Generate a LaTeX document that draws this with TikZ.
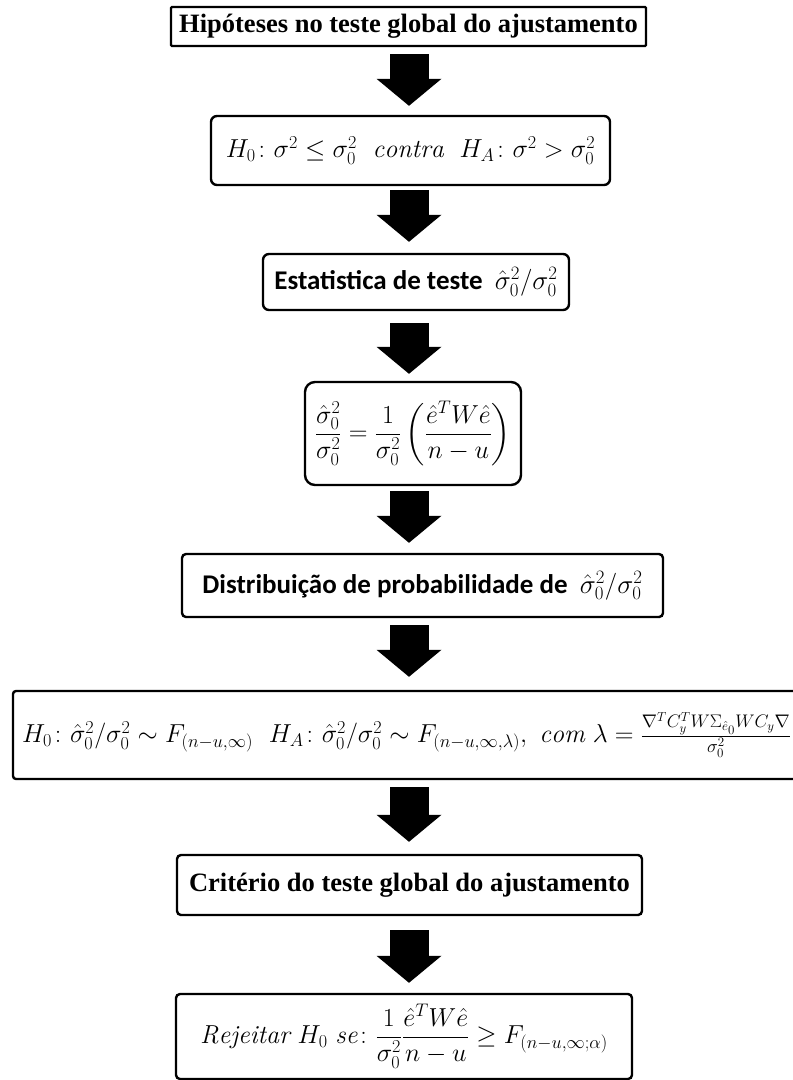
\RequirePackage{fix-cm}
\documentclass[tikz,border=0pt]{standalone}
\usepackage{amsmath}
\usepackage{amssymb}
\usepackage{fontspec}
\usepackage{tikz}
\usetikzlibrary{
  arrows.meta,
  positioning,
  calc
}
\newfontfamily\capfont{Liberation Serif}
\newfontfamily\calfont{Carlito}

\begin{document}
\begin{tikzpicture}[x=1pt, y=-1pt,
  box/.style={draw, line width=2.4pt, rounded corners=6pt, inner sep=0pt, align=center},
  ttl/.style={font=\capfont\bfseries\fontsize{26.5}{30}\selectfont},
  cal/.style={font=\calfont\bfseries\fontsize{27}{31}\selectfont},
  mth/.style={font=\fontsize{26}{30}\selectfont},
  bigarrow/.style={line width=39pt, -{Triangle[width=65pt 0, length=27pt 0, line width=0pt]}}]
  \useasboundingbox (0,0) rectangle (793,1080);
  \coordinate (ax) at (409,0);

  \node[box, ttl, rounded corners=1pt, minimum width=475pt, minimum height=39pt] (hip) at (408.5,26.5)
    {Hipóteses no teste global do ajustamento};
  \node[box, mth, minimum width=399pt, minimum height=69pt] (hyp) at (410.5,150.5)
    {$H_0\colon \sigma^2 \leq \sigma_0^2\ \ \mathit{contra}\ \ H_A\colon \sigma^2 > \sigma_0^2$};
  \node[box, cal, minimum width=306pt, minimum height=56pt] (est) at (416,282)
    {Estatistica de teste\ \ $\hat{\sigma}_0^2/\sigma_0^2$};
  \node[box, mth, rounded corners=10pt, minimum width=216pt, minimum height=103pt] (frm) at (413,433.5)
    {$\dfrac{\hat{\sigma}_0^2}{\sigma_0^2} = \dfrac{1}{\sigma_0^2}\left(\dfrac{\hat{e}^T W \hat{e}}{n-u}\right)$};
  \node[box, cal, rounded corners=4pt, minimum width=481pt, minimum height=63pt] (dist) at (422.5,585.5)
    {Distribuição de probabilidade de\ \ $\hat{\sigma}_0^2/\sigma_0^2$};
  \node[box, mth, rounded corners=3pt, minimum width=787pt, minimum height=88pt] (hfd) at (406.5,735)
    {$H_0\colon \hat{\sigma}_0^2/\sigma_0^2 \sim F_{(n-u,\infty)}\ \ H_A\colon \hat{\sigma}_0^2/\sigma_0^2 \sim F_{(n-u,\infty,\lambda)},\ \mathit{com}\ \lambda = \frac{\nabla^T C_y^T W \Sigma_{\hat{e}_0} W C_y \nabla}{\sigma_0^2}$};
  \node[box, ttl, rounded corners=4pt, minimum width=465pt, minimum height=60pt] (crit) at (409.5,885)
    {Critério do teste global do ajustamento};
  \node[box, mth, rounded corners=4pt, minimum width=456pt, minimum height=85pt] (rej) at (404,1036.5)
    {$\mathit{Rejeitar}\ H_0\ \mathit{se}\colon \dfrac{1}{\sigma_0^2}\dfrac{\hat{e}^T W \hat{e}}{n-u} \geq F_{(n-u,\infty;\alpha)}$};

  % block arrows between the steps
  \foreach \a/\b/\s/\e in {hip/hyp/7/9, hyp/est/4/11, est/frm/12/7, frm/dist/5/10,
                           dist/hfd/7/13, hfd/crit/7/12, crit/rej/14/10}
    \draw[bigarrow, shorten <=\s pt, shorten >=\e pt] (ax |- \a.south) -- (ax |- \b.north);
\end{tikzpicture}
\end{document}
